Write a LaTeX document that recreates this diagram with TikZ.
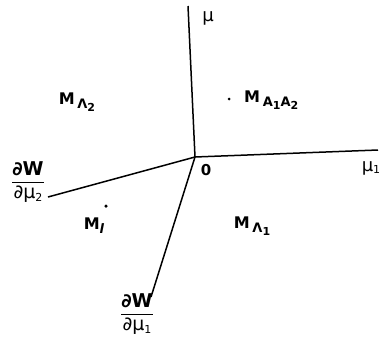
\documentclass[tikz,border=0pt]{standalone}
\usepackage{amsmath}
\usepackage{fontspec}
\setmainfont{DejaVu Sans}
\newcommand\lowsub[2][-4pt]{\raisebox{#1}{\fontsize{13}{15}\selectfont #2}}
\newcommand\ssub[1]{\raisebox{-2.5pt}{\fontsize{11}{13}\selectfont #1}}
\begin{document}
\begin{tikzpicture}[x=1pt,y=-1pt,
  axis/.style={line width=1.5pt},
  lbl/.style={inner sep=0pt,font=\fontsize{16}{19}\selectfont\bfseries},
  glbl/.style={inner sep=0pt,font=\fontsize{18}{21}\selectfont},
  dotmark/.style={circle,fill,inner sep=0pt,minimum size=3pt}]
\useasboundingbox (0,0) rectangle (380,340);
\coordinate (O) at (195,157);
\coordinate (mu) at (188,6);
\coordinate (mu1) at (378,150);
\coordinate (w2) at (48,197);
\coordinate (w1) at (151,297);
\draw[axis] (O) -- (mu);
\draw[axis] (O) -- (mu1);
\draw[axis] (O) -- (w2);
\draw[axis] (O) -- (w1);
\node[glbl] (lmu) at (208,18) {μ};
\node[glbl] (lmu1) at (371,168) {μ\ssub{1}};
\node[glbl,font=\fontsize{15}{17}\selectfont\bfseries] (lO) at (206,170) {0};
\node[lbl,font=\fontsize{19}{22}\selectfont\bfseries] (lw2) at (28,182) {$\dfrac{\text{∂W}}{\text{\mdseries∂μ\ssub{2}}}$};
\node[lbl,font=\fontsize{19}{22}\selectfont\bfseries] (lw1) at (137,314) {$\dfrac{\text{∂W}}{\text{\mdseries∂μ\ssub{1}}}$};
\node[lbl] (mL2) at (77,102) {M\,\lowsub{Λ\ssub{2}}};
\node[dotmark] (d1) at (229,99) {};
\node[lbl,anchor=west] (mA) at (244,100) {M\,\lowsub{A\ssub{1}A\ssub{2}}};
\node[lbl] (mL1) at (252,226) {M\,\lowsub{Λ\ssub{1}}};
\node[dotmark,minimum size=3.5pt] (d2) at (106,206) {};
\node[lbl] (ml) at (94,226) {M\lowsub{\itshape l}};
\end{tikzpicture}
\end{document}
